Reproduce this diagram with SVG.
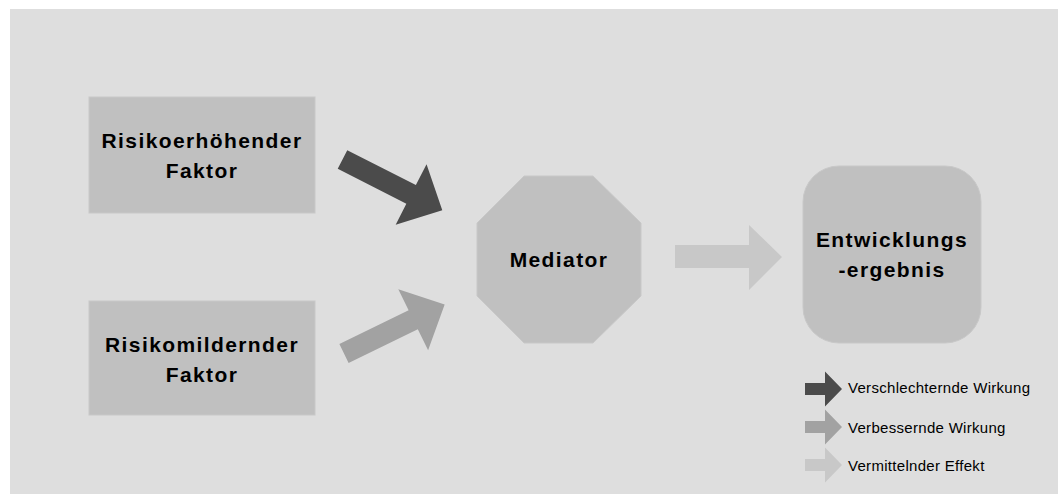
<svg xmlns="http://www.w3.org/2000/svg" width="1058" height="494" viewBox="0 0 1058 494">
<style>
.node{fill:#c0c0c0;stroke:#c8c8c8;stroke-width:1}
.t{font-family:"Liberation Sans",Arial,sans-serif;font-weight:bold;font-size:21px;fill:#000;text-anchor:middle;letter-spacing:1.4px}
.lg{font-family:"Liberation Sans",Arial,sans-serif;font-size:15px;fill:#000;letter-spacing:0.3px}
.dark{fill:#4b4b4b}
.mid{fill:#a2a2a2}
.light{fill:#c8c8c8}
</style>
<defs>
<polygon id="bigArrow" points="0,-10.5 77,-10.5 77,-34 112,0 77,34 77,10.5 0,10.5"/>
<polygon id="legArrow" points="0,-6 20,-6 20,-17.5 37,0 20,17.5 20,6 0,6"/>
</defs>
<rect x="0" y="0" width="1058" height="494" fill="#ffffff"/>
<rect x="10" y="9" width="1048" height="485" fill="#dedede"/>
<g id="risikoerhoehend">
<rect class="node" x="89" y="97" width="226" height="116"/>
<text class="t" x="202" y="148">Risikoerhöhender</text>
<text class="t" x="202" y="178">Faktor</text>
</g>
<g id="risikomildernd">
<rect class="node" x="89" y="301" width="226" height="114"/>
<text class="t" x="202" y="352">Risikomildernder</text>
<text class="t" x="202" y="382">Faktor</text>
</g>
<g id="mediator">
<polygon class="node" points="524,176 593,176 641,223 641,296 593,343 524,343 477,296 477,223"/>
<text class="t" x="559" y="267">Mediator</text>
</g>
<g id="entwicklungsergebnis">
<rect class="node" x="803" y="166" width="178" height="177" rx="36" ry="36"/>
<text class="t" x="892" y="247">Entwicklungs</text>
<text class="t" x="892" y="277">-ergebnis</text>
</g>
<g id="connectors">
<use href="#bigArrow" class="dark" transform="translate(342.5,159.5) rotate(27)"/>
<use href="#bigArrow" class="mid" transform="translate(344,353.5) rotate(-26)"/>
<polygon class="light" points="675,245 749,245 749,225 782,257 749,290 749,268 675,268"/>
</g>
<g id="legend">
<use href="#legArrow" class="dark" transform="translate(805,389)"/>
<use href="#legArrow" class="mid" transform="translate(805,427)"/>
<use href="#legArrow" class="light" transform="translate(805,465)"/>
<text class="lg" x="848" y="393">Verschlechternde Wirkung</text>
<text class="lg" x="848" y="433">Verbessernde Wirkung</text>
<text class="lg" x="848" y="471">Vermittelnder Effekt</text>
</g>
</svg>
